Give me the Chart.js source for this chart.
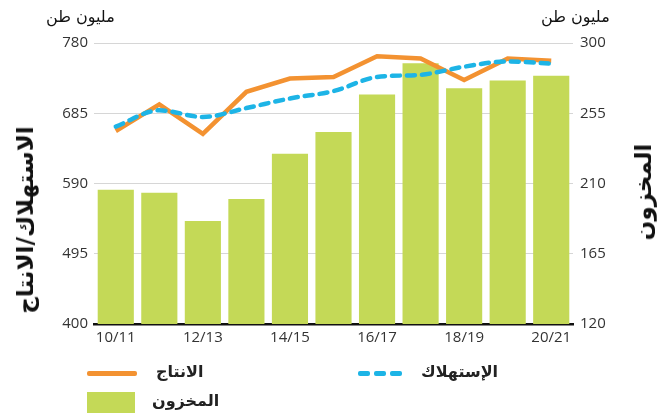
<!DOCTYPE html>
<html>
<head>
<meta charset="utf-8">
<script src="https://cdn.jsdelivr.net/npm/chart.js@4.4.1/dist/chart.umd.min.js"></script>
<style>
  html, body { margin: 0; padding: 0; background: #fff; }
  #wrap { position: relative; width: 665px; height: 420px; overflow: hidden; }
  canvas { position: absolute; left: 0; top: 0; }
  .t { position: absolute; font-family: "DejaVu Sans", sans-serif; color: #111; white-space: nowrap; direction: rtl; }
  .unit { font-size: 16px; top: 7px; }
  .vt { font-size: 23px; font-weight: bold; transform: translate(-50%, -50%) rotate(-90deg); }
  .lg { font-size: 16px; font-weight: bold; color: #222; }
  .sw { position: absolute; }
</style>
</head>
<body>
<div id="wrap">
  <canvas id="c" width="665" height="420"></canvas>
  <div class="t unit" style="left:46px;">مليون طن</div>
  <div class="t unit" style="left:541px;">مليون طن</div>
  <div class="t vt" style="left:25px; top:220px;">الاستهلاك/الانتاج</div>
  <div class="t vt" style="left:643px; top:192px;">المخزون</div>
  <div class="sw" style="left:87px; top:371px; width:50px; height:5px; background:#F39231; border-radius:2px;"></div>
  <div class="t lg" style="left:156px; top:362px;">الانتاج</div>
  <div class="sw" style="left:87px; top:392px; width:48px; height:21px; background:#C4D957;"></div>
  <div class="t lg" style="left:152px; top:391px;">المخزون</div>
  <div class="sw" style="left:358px; top:371px; width:12px; height:5px; background:#1DB4E6; border-radius:2px;"></div>
  <div class="sw" style="left:374px; top:371px; width:12px; height:5px; background:#1DB4E6; border-radius:2px;"></div>
  <div class="sw" style="left:390px; top:371px; width:12px; height:5px; background:#1DB4E6; border-radius:2px;"></div>
  <div class="t lg" style="left:421px; top:362px;">الإستهلاك</div>
</div>
<script>
const categories = ["10/11","11/12","12/13","13/14","14/15","15/16","16/17","17/18","18/19","19/20","20/21"];
const shownTickLabels = ["10/11","12/13","14/15","16/17","18/19","20/21"];
const production = [661, 697, 657, 714, 732, 734, 762, 759, 730, 759, 756];
const consumption = [667, 689, 680, 692, 705, 715, 734, 737, 748, 755, 752];
const stocks = [206, 204, 186, 200, 229, 243, 267, 287, 271, 276, 279];
const leftTicks = [400, 495, 590, 685, 780];
const rightTicks = [120, 165, 210, 255, 300];

const tickFont = { family: "'Open Sans', 'DejaVu Sans', sans-serif", size: 15 };

new Chart(document.getElementById('c'), {
  type: 'bar',
  data: {
    labels: categories,
    datasets: [
      { type: 'line', label: 'الإستهلاك', data: consumption, yAxisID: 'yL', order: 1,
        borderColor: '#1DB4E6', borderWidth: 4.5, borderDash: [8, 7], borderCapStyle: 'round',
        tension: 0.35, cubicInterpolationMode: 'monotone', pointRadius: 0, fill: false },
      { type: 'line', label: 'الانتاج', data: production, yAxisID: 'yL', order: 2,
        borderColor: '#F39231', borderWidth: 4.5, tension: 0, pointRadius: 0, fill: false,
        borderJoinStyle: 'miter' },
      { type: 'bar', label: 'المخزون', data: stocks, yAxisID: 'yR', order: 3,
        backgroundColor: '#C4D957', barPercentage: 0.83, categoryPercentage: 1.0 }
    ]
  },
  options: {
    responsive: false,
    animation: false,
    layout: { padding: { top: 43, left: 0, right: 0, bottom: 0 } },
    plugins: { legend: { display: false }, tooltip: { enabled: false } },
    scales: {
      x: {
        grid: { display: false, drawTicks: false },
        border: { display: true, color: '#111', width: 2.5 },
        ticks: {
          autoSkip: false, maxRotation: 0, padding: 5, color: '#333', font: tickFont,
          callback: function (v, i) { const l = categories[i]; return shownTickLabels.includes(l) ? l : ''; }
        },
        afterFit: function (s) { s.height = 96; }
      },
      yL: {
        position: 'left', min: 400, max: 780,
        afterBuildTicks: function (s) { s.ticks = leftTicks.map(v => ({ value: v })); },
        grid: { color: '#d6d6d6', lineWidth: 1, drawTicks: false },
        border: { display: false },
        ticks: { padding: 6, color: '#333', font: tickFont },
        afterFit: function (s) { s.width = 94; }
      },
      yR: {
        position: 'right', min: 120, max: 300,
        afterBuildTicks: function (s) { s.ticks = rightTicks.map(v => ({ value: v })); },
        grid: { display: false, drawTicks: false },
        border: { display: false },
        ticks: { padding: 7, color: '#333', font: tickFont },
        afterFit: function (s) { s.width = 92; }
      }
    }
  }
});
</script>
</body>
</html>
